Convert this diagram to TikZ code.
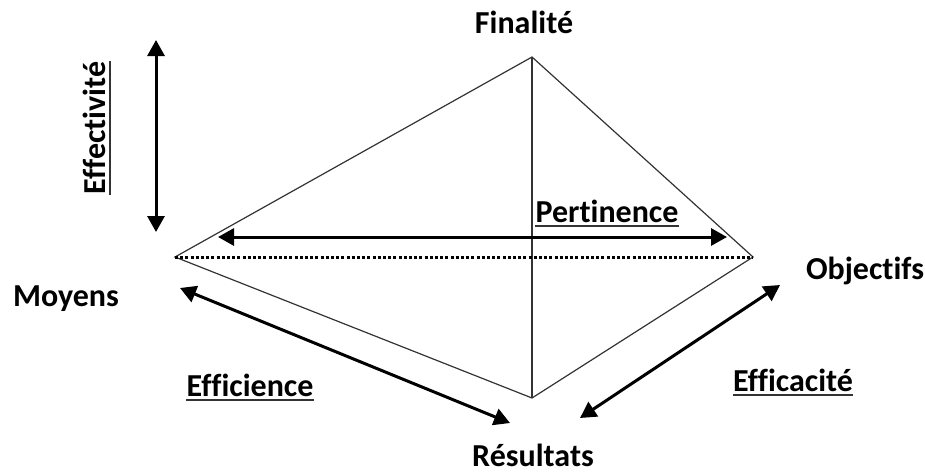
\documentclass[tikz,border=0pt]{standalone}
\usepackage{fontspec}
\setmainfont{Carlito}[Ligatures={NoCommon}]
\usetikzlibrary{arrows.meta}
\begin{document}
\begin{tikzpicture}[x=1pt,y=-1pt,
  lbl/.style={inner sep=0pt,font=\fontsize{32}{38}\selectfont\bfseries,text=black},
  edge/.style={line width=1.2pt,draw=black!80},
  dotline/.style={line width=3pt,dash pattern=on 3pt off 2.2pt,draw=black},
  dbl/.style={line width=3pt,draw=black,{Triangle[length=16pt,width=17pt]}-{Triangle[length=16pt,width=17pt]}},
  ul/.style={line width=2pt,draw=black!80}]
\useasboundingbox (0,0) rectangle (925,475);
% vertices
\coordinate (F) at (532,57);
\coordinate (M) at (175,257);
\coordinate (O) at (753,257);
\coordinate (R) at (532,398);
% diamond
\draw[edge] (F) -- (M) -- (R) -- (O) -- cycle;
\draw[edge] (F) -- (R);
\draw[dotline] (M) -- (O);
% arrow ends
\coordinate (e1) at (156,40);
\coordinate (e2) at (156,232);
\coordinate (p1) at (218,237);
\coordinate (p2) at (727,237);
\coordinate (f1) at (180,288);
\coordinate (f2) at (510,423);
\coordinate (c1) at (780,285);
\coordinate (c2) at (580,418);
\draw[dbl] (e1) -- (e2);
\draw[dbl] (p1) -- (p2);
\draw[dbl] (f1) -- (f2);
\draw[dbl] (c1) -- (c2);
% labels
\node[lbl,anchor=base] (fin) at (524,33) {Finalité};
\node[lbl,anchor=base] (moy) at (66,306) {Moyens};
\node[lbl,anchor=base] (obj) at (865,279) {Objectifs};
\node[lbl,anchor=base] (res) at (533,466) {Résultats};
\node[lbl,anchor=base] (per) at (607,222) {Pertinence};
\node[lbl,anchor=base] (eff) at (250,396) {Efficience};
\node[lbl,anchor=base] (efc) at (793,391) {Efficacité};
\node[lbl,anchor=base,rotate=90] (efv) at (105,128) {Effectivité};
% underlines
\draw[ul] ([yshift=-4pt]per.base west) -- ([yshift=-4pt]per.base east);
\draw[ul] ([yshift=-4pt]eff.base west) -- ([yshift=-4pt]eff.base east);
\draw[ul] ([yshift=-4pt]efc.base west) -- ([yshift=-4pt]efc.base east);
\draw[ul] ([xshift=5pt]efv.base west) -- ([xshift=5pt]efv.base east);
\end{tikzpicture}
\end{document}
